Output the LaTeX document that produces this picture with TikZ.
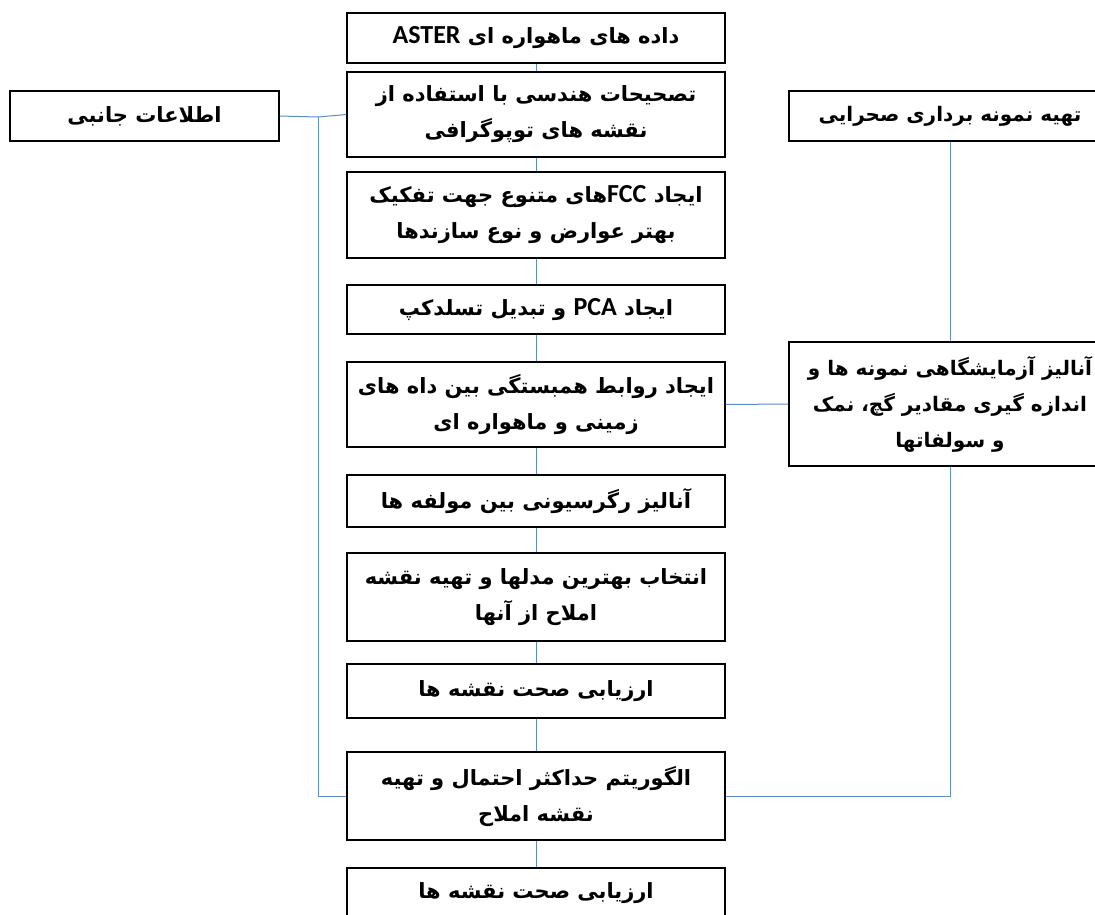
\documentclass[tikz,border=0pt]{standalone}
\usepackage{fontspec}
\TeXXeTstate=1
\newfontfamily\fafont[Script=Arabic]{DejaVu Sans}
\newfontfamily\latfont{Carlito}
\newcommand\myR[1]{\beginR #1\endR}
\newcommand\lat[1]{\beginL{\latfont\bfseries\fontsize{26}{36}\selectfont #1}\endL}
\definecolor{linkblue}{RGB}{91,141,205}
\begin{document}
\begin{tikzpicture}[x=1pt,y=-1pt,
  box/.style={draw=black, line width=1.3pt, fill=white, align=center, inner sep=0pt,
    font=\fafont\bfseries\fontsize{21}{36}\selectfont, minimum width=378pt},
  smalltext/.style={font=\fafont\bfseries\fontsize{20}{36}\selectfont},
  link/.style={draw=linkblue, line width=1pt}]
\path[use as bounding box] (0,0) rectangle (1095,914);
\clip (0,0) rectangle (1095,914);
\fill[white] (0,0) rectangle (1095,914);
% main column
\node[box, minimum height=50pt] (b1) at (536,38) {\myR{داده های ماهواره ای \lat{ASTER}}};
\node[box, minimum height=85pt] (b2) at (536,114.5) {\myR{تصحیحات هندسی با استفاده از}\\\myR{نقشه های توپوگرافی}};
\node[box, minimum height=86pt] (b3) at (536,215) {\myR{ایجاد \lat{FCC}های متنوع جهت تفکیک}\\\myR{بهتر عوارض و نوع سازندها}};
\node[box, minimum height=49pt] (b4) at (536,309.5) {\myR{ایجاد \lat{PCA} و تبدیل تسلدکپ}};
\node[box, minimum height=85pt] (b5) at (536,404.5) {\myR{ایجاد روابط همبستگی بین داه های}\\\myR{زمینی و ماهواره ای}};
\node[box, minimum height=52pt] (b6) at (536,501) {\myR{آنالیز رگرسیونی بین مولفه ها}};
\node[box, minimum height=88pt] (b7) at (536,597) {\myR{انتخاب بهترین مدلها و تهیه نقشه}\\\myR{املاح از آنها}};
\node[box, minimum height=54pt] (b8) at (536,691) {\myR{ارزیابی صحت نقشه ها}};
\node[box, minimum height=88pt] (b9) at (536,796) {\myR{الگوریتم حداکثر احتمال و تهیه}\\\myR{نقشه املاح}};
\node[box, minimum height=50pt] (b10) at (536,893) {\myR{ارزیابی صحت نقشه ها}};
% side boxes
\node[box, minimum width=269pt, minimum height=50pt] (side) at (144.5,116) {\myR{اطلاعات جانبی}};
\node[box, smalltext, minimum width=322pt, minimum height=50pt] (rtop) at (950,116) {\myR{تهیه نمونه برداری صحرایی}};
\node[box, smalltext, minimum width=322pt, minimum height=124pt] (lab) at (950,404) {\myR{آنالیز آزمایشگاهی نمونه ها و}\\\myR{اندازه گیری مقادیر گچ، نمک}\\\myR{و سولفاتها}};
% junctions
\coordinate (j1) at (318,117);
\coordinate (j2) at (318,796);
\coordinate (j3) at (950,796);
% connectors
\foreach \a/\b in {b1/b2,b2/b3,b3/b4,b4/b5,b5/b6,b6/b7,b7/b8,b8/b9,b9/b10}
  \draw[link] (\a) -- (\b);
\draw[link] (side.east) -- (j1) -- (b2.west);
\draw[link] (j1) -- (j2) -- (b9.west);
\draw[link] (rtop.south) -- (lab.north);
\draw[link] (lab.south) -- (j3) -- (b9.east);
\draw[link] (b5.east) -- (lab.west);
\end{tikzpicture}
\end{document}
